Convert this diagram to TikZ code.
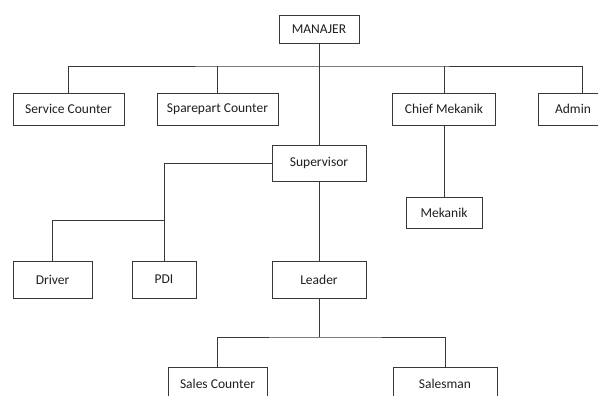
\documentclass[tikz,border=0pt]{standalone}
\usepackage{fontspec}
\setmainfont{Carlito}
\begin{document}
\begin{tikzpicture}[x=1pt,y=-1pt,line width=.8pt,
  garis/.style={draw=black!78},
  jabatan/.style={draw=black!78,fill=white,font=\fontsize{13.5}{15}\selectfont,
    text=black!88,inner sep=0pt}]
\useasboundingbox (0,0) rectangle (598,396);
\clip (0,0) rectangle (598,396);
% baris atas
\node[jabatan,minimum width=80,minimum height=28] (man) at (319,29) {MANAJER};
\node[jabatan,minimum width=111,minimum height=32] (svc) at (68.5,109) {Service Counter};
\node[jabatan,minimum width=121,minimum height=32] (spr) at (217.5,109) {Sparepart Counter};
\node[jabatan,minimum width=103,minimum height=32] (chf) at (444,109) {Chief Mekanik};
\node[jabatan,minimum width=70,minimum height=32] (adm) at (573,109) {Admin};
% tengah
\node[jabatan,minimum width=94,minimum height=36] (sup) at (319,163) {Supervisor};
\node[jabatan,minimum width=76,minimum height=31] (mek) at (444,212.5) {Mekanik};
\node[jabatan,minimum width=79,minimum height=37] (drv) at (52.5,279.5) {Driver};
\node[jabatan,minimum width=64,minimum height=37] (pdi) at (164,279.5) {PDI};
\node[jabatan,minimum width=94,minimum height=37] (ldr) at (319,279.5) {Leader};
% bawah
\node[jabatan,minimum width=99,minimum height=34] (sc) at (217.5,384) {Sales Counter};
\node[jabatan,minimum width=104,minimum height=34] (sm) at (445,384) {Salesman};
\coordinate (bus) at (319,66);
\coordinate (j1) at (164,220);
\coordinate (j2) at (319,337);
\draw[garis] (svc.north) |- (bus) -| ([xshift=9]adm.north);
\draw[garis] (spr.north) -- (spr.north |- bus);
\draw[garis] (chf.north) -- (chf.north |- bus);
\draw[garis] (man.south) -- (sup.north);
\draw[garis] (chf.south) -- (mek.north);
\draw[garis] (sup.west) -| (pdi.north);
\draw[garis] (drv.north) |- (j1);
\draw[garis] (sup.south) -- (ldr.north);
\draw[garis] (ldr.south) -- (j2);
\draw[garis] (sc.north) |- (j2) -| (sm.north);
\end{tikzpicture}
\end{document}
